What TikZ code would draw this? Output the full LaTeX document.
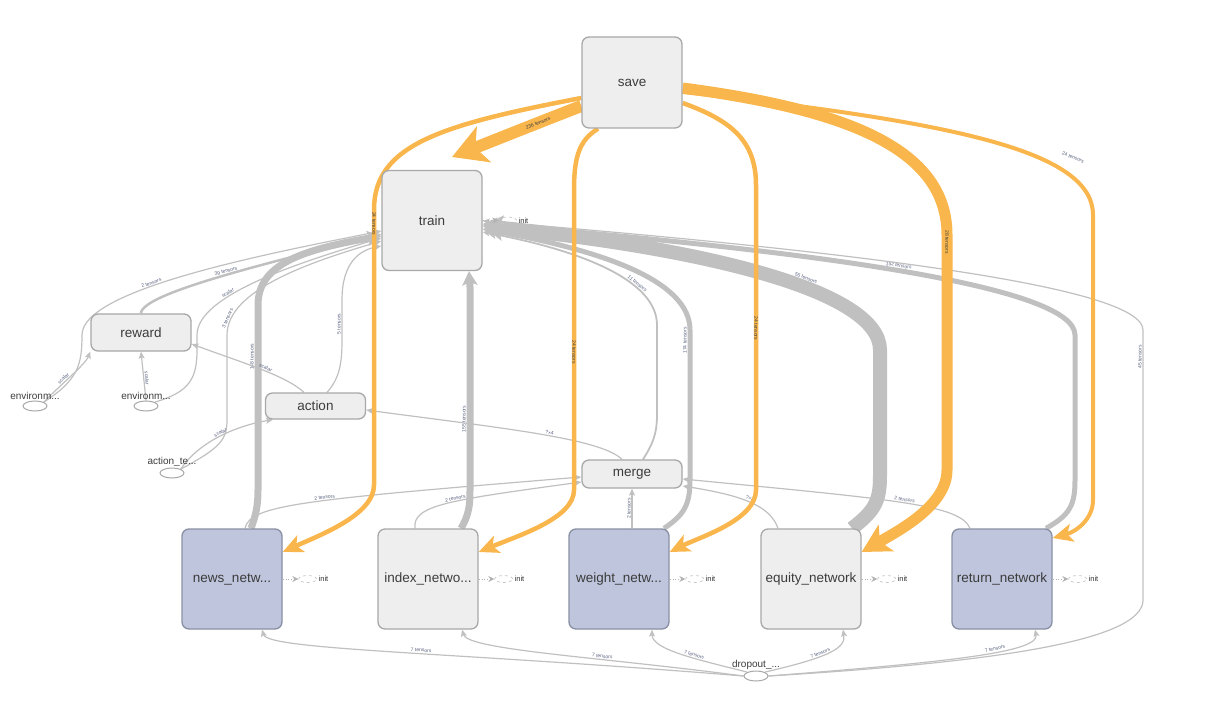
\documentclass[tikz,border=0pt]{standalone}
\usepackage{fontspec}
\setmainfont{Liberation Sans}
\usetikzlibrary{arrows.meta,shapes.geometric}
\definecolor{org}{HTML}{F9B64C}
\definecolor{edg}{HTML}{C0C0C0}
\definecolor{bfill}{HTML}{EEEEEE}
\definecolor{bdraw}{HTML}{A8A8A8}
\definecolor{nfill}{HTML}{BEC5DC}
\definecolor{ndraw}{HTML}{8A90A4}
\definecolor{txt}{HTML}{3C3C3C}
\definecolor{lbl}{HTML}{5A6380}
\pgfdeclarelayer{bg}
\pgfsetlayers{bg,main}
\tikzset{
 op/.style={draw=bdraw, fill=bfill, rounded corners=7pt, line width=1.3pt, minimum width=100pt, text=txt, font=\fontsize{13.5}{16}\selectfont, inner sep=0pt},
 bigop/.style={op, minimum height=100pt},
 blueop/.style={fill=nfill, draw=ndraw},
 ell/.style={ellipse, draw=bdraw, line width=1pt, minimum width=24pt, minimum height=10pt, inner sep=0pt},
 etxt/.style={font=\fontsize{10}{12}\selectfont, text=txt, inner sep=1pt},
 initell/.style={ellipse, draw=gray!45, dashed, line width=0.7pt, minimum width=18pt, minimum height=7pt, inner sep=0pt},
 initarr/.style={draw=gray!60, dotted, line width=0.9pt, -{Stealth[length=6pt,width=6pt]}},
 inittxt/.style={font=\fontsize{7.5}{9}\selectfont, text=black!80, inner sep=1.5pt},
 ge/.style={draw=edg, line width=1.2pt},
 oe/.style={draw=org},
 ga/.style={-{Stealth[length=7pt,width=6pt,inset=1.5pt]}},
 gA/.style={-{Stealth[length=14pt,width=15pt,inset=3pt]}},
 oa/.style={-{Stealth[length=20pt,width=18pt,inset=5pt]}},
 lab/.style={font=\fontsize{5}{6}\selectfont, text=lbl, sloped, inner sep=0.8pt, above},
 olab/.style={font=\fontsize{5}{6}\selectfont, text=black!75, sloped, inner sep=0pt},
}
\begin{document}
\begin{tikzpicture}[x=1pt,y=-1pt]
\useasboundingbox (0,0) rectangle (1212,708);
% nodes
\node[op, minimum height=91pt] (save) at (632,82.5) {save};
\node[bigop] (train) at (432,220.5) {train};
\node[op, minimum height=37pt] (reward) at (141,332.5) {reward};
\node[op, minimum height=26pt] (action) at (315.5,406) {action};
\node[op, minimum height=28pt] (merge) at (632,474) {merge};
\node[bigop, blueop] (news) at (232,579) {news\_netw...};
\node[bigop] (index) at (428,579) {index\_netwo...};
\node[bigop, blueop] (weight) at (619,579) {weight\_netw...};
\node[bigop] (equity) at (811,579) {equity\_network};
\node[bigop, blueop] (ret) at (1002,579) {return\_network};
\node[ell, label={[etxt]above:environm...}] (env1) at (35,406) {};
\node[ell, label={[etxt]above:environm...}] (env2) at (146,406) {};
\node[ell, label={[etxt]above:action\_te...}] (acte) at (172,473) {};
\node[ell, label={[etxt]above:dropout\_...}] (drop) at (756,676) {};
% init markers
\foreach \n in {train,news,index,weight,equity,ret}{
  \node[initell] (\n-i) at ([xshift=25pt]\n.east) {};
  \node[inittxt, anchor=west] (\n-t) at (\n-i.east) {init};
  \draw[initarr] (\n.east) -- (\n-i.west);
}
\begin{pgfonlayer}{bg}
% ---- gray edges into train (right side)
\draw[ge, line width=14pt, -{Stealth[length=20pt,width=25pt,inset=4pt]}] (equity.north -| 852,0) .. controls (876,510) and (880,500) .. (880,475) -- (880,350) .. controls (880,290) and (700,248) .. (train.east |- 0,226) node[lab,pos=0.4]{55 tensors};
\draw[ge, line width=5pt, gA] (ret.north -| 1046,0) .. controls (1070,515) and (1075,505) .. (1075,480) -- (1075,335) .. controls (1075,285) and (800,250) .. (train.east |- 0,224) node[lab,pos=0.5]{152 tensors};
\draw[ge, line width=5pt, gA] (weight.north -| 664,0) .. controls (684,515) and (690,505) .. (690,480) -- node[lab,pos=0.93]{174 tensors} (690,330) .. controls (690,280) and (600,250) .. (train.east |- 0,229);
\draw[ge, line width=1.8pt, ga] (merge.north -| 643,0) .. controls (652,445) and (657,435) .. (657,415) -- (657,325) .. controls (657,280) and (580,250) .. (train.east |- 0,232) node[lab,pos=0.32]{11 tensors};
\draw[ge, ga] (drop.east) .. controls (1000,662) and (1143,640) .. (1143,600) -- node[lab,pos=0.9]{45 tensors} (1143,330) .. controls (1143,290) and (900,255) .. (train.east |- 0,221);
% ---- gray edges into train (bottom / left)
\draw[ge, line width=7pt, gA] (index.north -| 461,0) .. controls (469,515) and (470,505) .. (470,490) -- node[lab,pos=0.35]{155 tensors} (470,287) -- (train.south -| 469,0);
\draw[ge, line width=7pt, gA] (news.north -| 251,0) .. controls (256,515) and (258,505) .. (258,490) -- node[lab,pos=0.72]{148 tensors} (258,305) .. controls (258,265) and (300,250) .. (train.west |- 0,236);
\draw[ge, line width=2.5pt, ga] (reward.north) .. controls (141,292) and (290,258) .. (train.west |- 0,234) node[lab,pos=0.5]{39 tensors};
\draw[ge, ga] (env1.north east) .. controls (78,380) and (82,365) .. (82,335) .. controls (82,290) and (260,255) .. (train.west |- 0,231) node[lab,pos=0.4]{2 tensors};
\draw[ge, ga] (env2.north east) .. controls (190,392) and (197,378) .. (197,350) -- (197,335) .. controls (197,295) and (300,262) .. (train.west |- 0,238) node[lab,pos=0.35]{scalar};
\draw[ge, ga] (acte.north east) .. controls (220,448) and (227,440) .. (227,420) -- (227,335) .. controls (227,290) and (310,262) .. (train.west |- 0,241) node[lab,pos=0.12]{3 tensors};
\draw[ge, ga] (action.north -| 327,0) .. controls (340,378) and (342,362) .. (342,340) -- node[lab,pos=0.4]{5 tensors} (342,300) .. controls (342,262) and (360,250) .. (train.west |- 0,246);
% ---- other gray edges
\draw[ge, ga] (env1.north east) .. controls (60,385) and (85,365) .. (reward.south west) node[lab,pos=0.4]{scalar};
\draw[ge, ga] (env2.north) -- (reward.south) node[lab,pos=0.45]{scalar};
\draw[ge, ga] (action.north -| 304,0) .. controls (285,375) and (240,362) .. (reward.east |- 0,344) node[lab,pos=0.45]{scalar};
\draw[ge, ga] (acte.north east) .. controls (200,440) and (240,425) .. (action.south -| 273,0) node[lab,pos=0.5]{scalar};
\draw[ge, ga] (merge.north -| 622,0) .. controls (600,438) and (500,428) .. (action.east |- 0,410) node[lab,pos=0.45]{?\texttimes4};
\draw[ge, ga] (news.north -| 245,0) .. controls (250,505) and (300,500) .. (merge.west |- 0,477) node[lab,pos=0.55]{2 tensors};
\draw[ge, ga] (index.north -| 415,0) .. controls (412,505) and (450,500) .. (merge.west |- 0,482) node[lab,pos=0.55]{2 tensors};
\draw[ge, ga] (weight.north -| 632,0) -- (merge.south -| 632,0) node[lab,pos=0.5]{2 tensors};
\draw[ge, ga] (equity.north -| 778,0) .. controls (770,505) and (740,495) .. (merge.east |- 0,486) node[lab,pos=0.5]{?\texttimes6};
\draw[ge, ga] (ret.north -| 970,0) .. controls (960,505) and (900,500) .. (merge.east |- 0,479) node[lab,pos=0.5]{2 tensors};
% ---- dropout edges
\draw[ge, ga] (drop.west) .. controls (450,652) and (268,650) .. (news.south -| 262,0) node[lab,pos=0.45]{7 tensors};
\draw[ge, ga] (drop.west) .. controls (600,657) and (468,650) .. (index.south -| 462,0) node[lab,pos=0.35]{7 tensors};
\draw[ge, ga] (drop.north west) .. controls (700,660) and (652,650) .. (weight.south -| 652,0) node[lab,pos=0.4]{7 tensors};
\draw[ge, ga] (drop.north east) .. controls (830,657) and (846,648) .. (equity.south -| 843,0) node[lab,pos=0.4]{7 tensors};
\draw[ge, ga] (drop.east) .. controls (950,662) and (1040,652) .. (ret.south -| 1035,0) node[lab,pos=0.6]{7 tensors};
% ---- orange edges from save
\draw[oe, line width=4.5pt, oa] (save.west |- 0,98) .. controls (440,125) and (374,145) .. (374,210) -- node[olab,pos=0.05]{24 tensors} (374,485) .. controls (374,515) and (320,535) .. (news.east |- 0,552);
\draw[oe, line width=12pt, -{Stealth[length=34pt,width=38pt,inset=9pt]}] (save.west |- 0,106) .. controls (540,122) and (500,138) .. (452,157) node[olab,pos=0.35]{236 tensors};
\draw[oe, line width=4.5pt, oa] (save.south -| 598,0) .. controls (580,140) and (574,155) .. (574,190) -- node[olab,pos=0.54]{24 tensors} (574,490) .. controls (574,518) and (520,535) .. (index.east |- 0,552);
\draw[oe, line width=4.5pt, oa] (save.east |- 0,103) .. controls (730,120) and (756,140) .. (756,185) -- node[olab,pos=0.47]{24 tensors} (756,490) .. controls (756,520) and (700,537) .. (weight.east |- 0,552);
\draw[oe, line width=11pt, -{Stealth[length=28pt,width=30pt,inset=7pt]}] (save.east |- 0,88) .. controls (850,110) and (947,150) .. (947,235) -- node[olab,pos=0.03]{28 tensors} (947,470) .. controls (947,505) and (900,530) .. (equity.east |- 0,552);
\draw[oe, line width=4pt, oa] (save.east |- 0,92) .. controls (950,122) and (1093,150) .. (1093,215) -- (1093,500) .. controls (1093,520) and (1075,532) .. (ret.east |- 0,538);
\node[lab, rotate=-22] (rl) at (1072,160) {24 tensors};
\end{pgfonlayer}
\end{tikzpicture}
\end{document}
